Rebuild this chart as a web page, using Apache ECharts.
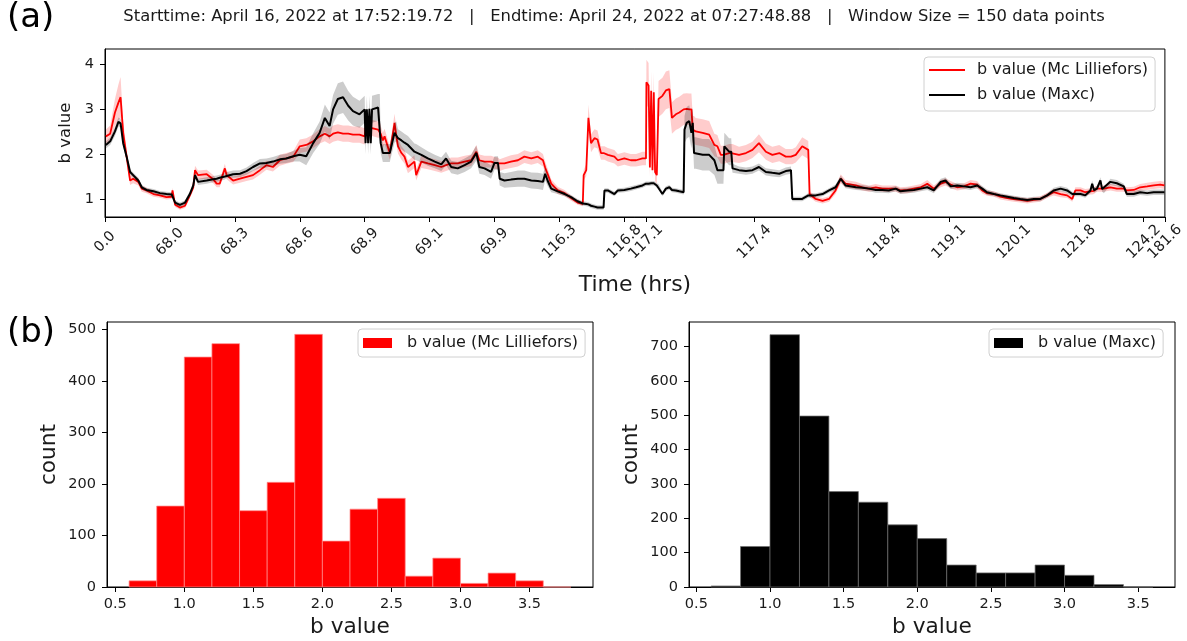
<!DOCTYPE html>
<html><head><meta charset="utf-8">
<script src="https://cdn.jsdelivr.net/npm/echarts@6/dist/echarts.min.js"></script>
<style>html,body{margin:0;padding:0;background:#fff}#c{width:1187px;height:641px}</style>
</head><body><div id="c"></div>
<script>
// ---- time series (x = sample index, every tick = 150 data points) ----
const sampleIndex = [
2,12,23,31,36,42,50,58,65,77,
85,96,112,127,142,154,156,162,173,185,
196,204,208,215,235,250,258,265,277,281,
296,312,327,342,358,373,388,404,419,435,
450,465,481,496,508,519,527,538,550,562,
573,588,600,602,605,608,611,614,617,631,
635,637,642,646,658,669,673,677,685,692,
700,715,719,731,746,762,777,788,800,815,
831,846,858,865,877,892,900,908,912,923,
938,954,969,985,1000,1012,1017,1023,1031,1046,
1062,1077,1092,1104,1106,1112,1117,1123,1131,1138,
1146,1152,1154,1162,1177,1185,1200,1215,1227,1242,
1250,1251,1256,1259,1262,1265,1268,1271,1275,1279,
1288,1296,1304,1310,1319,1327,1337,1339,1344,1350,
1355,1358,1361,1365,1381,1396,1408,1415,1423,1429,
1431,1442,1447,1450,1465,1481,1496,1511,1527,1542,
1558,1573,1585,1588,1596,1611,1625,1628,1642,1658,
1673,1688,1700,1711,1735,1750,1765,1781,1796,1811,
1827,1838,1854,1869,1885,1900,1915,1931,1942,1954,
1969,1985,2000,2015,2027,2038,2054,2069,2085,2100,
2115,2131,2146,2161,2177,2192,2208,2223,2235,2242,
2254,2265,2277,2281,2285,2292,2300,2304,2308,2323,
2338,2354,2361,2377,2392,2408,2423,2438,2448];
const bLilliefors = [
2.39,2.45,2.92,3.14,3.26,2.47,1.94,1.41,1.45,1.38,
1.23,1.19,1.11,1.08,1.04,1.05,1.19,0.87,0.81,0.85,
1.08,1.26,1.64,1.53,1.55,1.44,1.34,1.34,1.68,1.53,
1.41,1.45,1.49,1.53,1.64,1.75,1.71,1.86,1.90,1.94,
2.17,2.20,2.28,2.39,2.45,2.39,2.45,2.48,2.45,2.45,
2.43,2.43,2.39,2.58,2.58,2.58,2.58,2.58,2.58,2.54,
2.54,2.45,2.30,2.39,2.02,2.69,2.40,2.17,2.02,1.94,
1.71,1.83,1.53,1.83,1.79,1.75,1.71,1.75,1.79,1.79,
1.83,1.86,2.05,1.86,1.83,1.83,1.80,1.79,1.75,1.79,
1.83,1.86,1.94,1.90,1.94,1.86,1.70,1.55,1.34,1.19,
1.13,1.02,0.92,0.89,1.53,1.64,2.80,2.24,2.35,2.32,
2.02,2.02,2.02,1.98,1.94,1.86,1.90,1.86,1.86,1.90,
1.90,3.59,3.52,1.70,3.40,1.64,3.37,1.60,1.53,3.22,
3.29,3.41,3.44,2.80,2.88,2.92,2.99,2.99,3.00,2.99,
2.99,2.54,2.54,2.50,2.47,2.43,2.20,2.17,1.98,1.98,
1.98,2.02,2.02,2.02,1.98,2.02,2.09,2.24,2.05,1.98,
2.02,1.94,1.94,1.94,1.98,2.17,2.09,1.11,1.00,0.96,
1.00,1.19,1.45,1.34,1.30,1.26,1.23,1.26,1.23,1.23,
1.23,1.19,1.20,1.23,1.26,1.34,1.23,1.34,1.38,1.32,
1.26,1.28,1.34,1.32,1.19,1.13,1.11,1.05,1.02,1.00,
0.98,0.96,0.98,1.00,1.08,1.15,1.11,1.08,1.00,1.19,
1.19,1.15,1.17,1.17,1.18,1.23,1.23,1.23,1.23,1.26,
1.23,1.23,1.19,1.20,1.26,1.28,1.30,1.32,1.30];
const bLillieforsErr = [
.15,.18,.3,.4,.45,.25,.15,.1,.1,.08,
.07,.06,.06,.05,.05,.05,.06,.05,.05,.05,
.06,.07,.1,.1,.1,.09,.08,.08,.1,.09,
.09,.09,.09,.1,.1,.1,.1,.12,.12,.12,
.15,.15,.15,.16,.17,.17,.18,.18,.18,.18,
.18,.18,.18,.18,.18,.18,.18,.18,.18,.18,
.18,.18,.17,.17,.15,.2,.18,.16,.15,.15,
.14,.14,.12,.14,.13,.13,.13,.13,.13,.13,
.13,.13,.15,.13,.13,.13,.13,.13,.13,.13,
.14,.14,.14,.14,.14,.14,.13,.12,.1,.08,
.07,.06,.05,.05,.12,.13,.3,.2,.2,.2,
.15,.15,.15,.15,.15,.14,.14,.14,.14,.15,
.15,.5,.5,.2,.45,.2,.45,.2,.2,.4,
.4,.42,.42,.35,.35,.35,.35,.35,.35,.35,
.35,.3,.3,.3,.3,.3,.25,.25,.2,.2,
.2,.2,.2,.2,.18,.18,.18,.2,.18,.18,
.18,.17,.17,.17,.17,.2,.2,.07,.06,.06,
.06,.08,.1,.08,.08,.07,.07,.07,.07,.07,
.07,.07,.07,.07,.07,.08,.07,.08,.08,.08,
.07,.07,.08,.08,.07,.06,.06,.06,.06,.06,
.06,.06,.06,.06,.06,.07,.07,.06,.06,.07,
.07,.07,.07,.07,.07,.07,.07,.07,.07,.07,
.07,.07,.07,.07,.07,.08,.08,.08,.08];
const bMaxc = [
2.20,2.28,2.50,2.71,2.68,2.24,1.94,1.60,1.53,1.41,
1.26,1.20,1.17,1.13,1.11,1.10,1.10,0.92,0.87,0.92,
1.11,1.30,1.53,1.38,1.41,1.44,1.45,1.47,1.50,1.53,
1.55,1.56,1.62,1.71,1.79,1.80,1.83,1.88,1.90,1.95,
1.98,1.95,2.24,2.47,2.80,2.62,2.99,3.22,3.26,3.07,
2.95,2.88,2.99,2.24,2.99,2.24,3.00,2.24,2.99,3.03,
3.03,2.24,2.02,2.02,2.02,2.47,2.50,2.35,2.30,2.25,
2.20,2.05,2.04,1.98,1.90,1.83,1.77,1.90,1.71,1.68,
1.75,1.83,2.02,1.71,1.68,1.60,1.80,1.80,1.45,1.41,
1.43,1.45,1.45,1.41,1.40,1.38,1.56,1.40,1.23,1.17,
1.11,1.04,0.95,0.90,0.90,0.89,0.88,0.85,0.83,0.81,
0.81,0.81,1.19,1.19,1.11,1.19,1.20,1.23,1.26,1.30,
1.34,1.34,1.34,1.34,1.35,1.35,1.35,1.33,1.30,1.28,
1.11,1.23,1.26,1.20,1.19,1.17,1.15,2.54,2.69,2.73,
2.47,2.69,2.02,2.02,1.98,1.98,1.86,1.64,1.64,1.64,
2.17,2.05,2.05,1.68,1.64,1.62,1.64,1.71,1.60,1.58,
1.56,1.62,1.64,1.00,1.00,1.00,1.08,1.08,1.08,1.11,
1.19,1.26,1.45,1.30,1.26,1.25,1.23,1.20,1.20,1.19,
1.23,1.17,1.19,1.20,1.23,1.26,1.19,1.38,1.41,1.28,
1.30,1.28,1.26,1.30,1.23,1.15,1.11,1.08,1.05,1.02,
1.00,0.98,1.00,1.00,1.08,1.19,1.23,1.19,1.11,1.11,
1.11,1.08,1.19,1.34,1.20,1.23,1.41,1.22,1.19,1.38,
1.35,1.28,1.11,1.11,1.15,1.13,1.15,1.15,1.15];
const bMaxcErr = [
.08,.08,.1,.1,.1,.08,.07,.06,.06,.06,
.05,.05,.05,.05,.05,.05,.05,.05,.05,.05,
.06,.06,.07,.07,.07,.07,.07,.07,.07,.07,
.08,.08,.08,.09,.1,.1,.1,.1,.1,.12,
.15,.2,.22,.25,.3,.3,.32,.35,.35,.33,
.32,.3,.3,.25,.3,.25,.3,.25,.3,.3,
.3,.22,.2,.2,.2,.22,.22,.2,.2,.2,
.2,.18,.18,.17,.16,.15,.15,.15,.14,.14,
.15,.15,.17,.15,.15,.15,.15,.15,.15,.16,
.17,.18,.18,.18,.18,.18,.15,.12,.08,.06,
.05,.05,.05,.05,.05,.05,.05,.05,.05,.05,
.05,.05,.05,.05,.05,.05,.05,.05,.05,.05,
.05,.05,.05,.05,.05,.05,.05,.05,.05,.05,
.05,.05,.05,.05,.05,.05,.05,.3,.35,.35,
.35,.35,.35,.35,.35,.35,.33,.3,.3,.3,
.3,.3,.3,.1,.08,.08,.08,.08,.08,.08,
.08,.08,.08,.05,.05,.05,.05,.05,.05,.05,
.05,.06,.07,.06,.06,.06,.06,.06,.06,.06,
.06,.06,.06,.06,.06,.06,.06,.07,.07,.06,
.06,.06,.06,.06,.06,.06,.05,.05,.05,.05,
.05,.05,.05,.05,.05,.06,.06,.06,.05,.05,
.05,.05,.06,.07,.06,.06,.07,.06,.06,.07,
.07,.06,.06,.06,.06,.06,.06,.06,.06];
const timeTickIndex = [0,150,300,450,600,750,900,1050,1200,1250,1500,1650,1800,1950,2100,2250,2400,2449];
const timeTickLabels = ['0.0','68.0','68.3','68.6','68.9','69.1','69.9','116.3','116.8','117.1','117.4','117.9','118.4','119.1','120.1','121.8','124.2','181.6'];
const bValueTicks = [1,2,3,4];

// ---- histograms ----
const binEdgesLilliefors = [0.6,0.8,1.0,1.2,1.4,1.6,1.8,2.0,2.2,2.4,2.6,2.8,3.0,3.2,3.4,3.6,3.8];
const countsLilliefors = [12,157,446,472,148,203,490,89,151,172,21,56,7,27,12,0];
const binEdgesMaxc = [0.6,0.8,1.0,1.2,1.4,1.6,1.8,2.0,2.2,2.4,2.6,2.8,3.0,3.2,3.4,3.6];
const countsMaxc = [3,118,735,498,278,247,181,141,64,41,41,64,34,7,0];
const histBTicks = [0.5,1.0,1.5,2.0,2.5,3.0,3.5];
const countTicksLilliefors = [0,100,200,300,400,500];
const countTicksMaxc = [0,100,200,300,400,500,600,700];

const NAME_L = 'b value (Mc Lilliefors)';
const NAME_M = 'b value (Maxc)';
const FONT = 'DejaVu Sans';
const TXT = '#1a1a1a';
const TICK_FS = 14.5;

const pairs = (ys) => sampleIndex.map((x, i) => [x, ys[i]]);
const bandRows = (ys, es) => sampleIndex.map((x, i) => [x, ys[i] - es[i], ys[i] + es[i]]);
const bins = (edges, counts) => counts.map((c, i) => [edges[i], edges[i + 1], c]);

function axisBase(extra) {
  return Object.assign({
    axisLine: {show: true, onZero: false, lineStyle: {color: '#000', width: 1}},
    splitLine: {show: false},
    nameTextStyle: {fontSize: 21.7, color: TXT, fontFamily: FONT}
  }, extra);
}
const ticks = (vals) => ({show: true, length: 5, customValues: vals, lineStyle: {color: '#000', width: 1}});

function histItem(fill, stroke) {
  return function (params, api) {
    const a = api.coord([api.value(0), api.value(2)]);
    const b = api.coord([api.value(1), 0]);
    return {type: 'rect', shape: {x: a[0], y: a[1], width: b[0] - a[0], height: b[1] - a[1]},
      style: {fill: fill, stroke: stroke, lineWidth: 0.8}};
  };
}
// one polygon for the whole uncertainty band, mapped through the axis scales
function makeBand(ys, es, fill) {
  const rows = bandRows(ys, es);
  return function (params, api) {
    if (params.dataIndex !== 0) return null;
    const upper = rows.map(r => api.coord([r[0], r[2]]));
    const lower = rows.map(r => api.coord([r[0], r[1]])).reverse();
    return {type: 'polygon', shape: {points: upper.concat(lower)}, style: {fill: fill}};
  };
}

const legendBase = {
  orient: 'vertical', selectedMode: false, backgroundColor: '#fff', z: 10,
  borderColor: '#d0d0d0', borderWidth: 1, borderRadius: 4,
  textStyle: {fontSize: 16, color: TXT, fontFamily: FONT}
};

const graphics = [
  {type: 'text', left: 7, top: 1, style: {text: '(a)', fontSize: 34, fontFamily: FONT, fill: '#000'}},
  {type: 'text', left: 7, top: 316, style: {text: '(b)', fontSize: 34, fontFamily: FONT, fill: '#000'}},
  {type: 'text', x: 614, y: 17, style: {text: 'Starttime: April 16, 2022 at 17:52:19.72   |   Endtime: April 24, 2022 at 07:27:48.88   |   Window Size = 150 data points',
    fontSize: 16.4, fontFamily: FONT, fill: TXT, align: 'center', verticalAlign: 'middle'}}
];
const lens = [bLilliefors, bLillieforsErr, bMaxc, bMaxcErr].map(a => a.length);
if (lens.some(l => l !== sampleIndex.length)) {
  graphics.push({type: 'text', left: 300, top: 120, style: {text: 'LENGTH MISMATCH ' + sampleIndex.length + ' ' + lens.join(','), fontSize: 20, fill: 'blue'}});
}

const chart = echarts.init(document.getElementById('c'), null, {renderer: 'canvas'});
chart.setOption({
  animation: false,
  backgroundColor: '#fff',
  textStyle: {fontFamily: FONT},
  graphic: graphics,
  grid: [
    {left: 105, top: 49, width: 1062, height: 168, show: true, borderColor: '#000', borderWidth: 1, backgroundColor: 'transparent'},
    {left: 107, top: 322, width: 486, height: 265, show: true, borderColor: '#000', borderWidth: 1, backgroundColor: 'transparent'},
    {left: 689, top: 322, width: 486, height: 265, show: true, borderColor: '#000', borderWidth: 1, backgroundColor: 'transparent'}
  ],
  xAxis: [
    axisBase({gridIndex: 0, type: 'value', min: 0, max: 2449, name: 'Time (hrs)', nameLocation: 'middle', nameGap: 57,
      nameTextStyle: {fontSize: 22, color: TXT, fontFamily: FONT},
      axisTick: ticks(timeTickIndex),
      axisLabel: {customValues: timeTickIndex, rotate: 45, align: 'center', verticalAlign: 'middle', margin: 25,
        fontSize: TICK_FS, color: TXT, fontFamily: FONT, hideOverlap: false,
        formatter: v => timeTickLabels[timeTickIndex.indexOf(v)]}}),
    axisBase({gridIndex: 1, type: 'value', min: 0.44, max: 3.96, name: 'b value', nameLocation: 'middle', nameGap: 29,
      axisTick: ticks(histBTicks),
      axisLabel: {customValues: histBTicks, fontSize: TICK_FS, color: TXT, fontFamily: FONT, margin: 10, formatter: v => v.toFixed(1)}}),
    axisBase({gridIndex: 2, type: 'value', min: 0.45, max: 3.75, name: 'b value', nameLocation: 'middle', nameGap: 29,
      axisTick: ticks(histBTicks),
      axisLabel: {customValues: histBTicks, fontSize: TICK_FS, color: TXT, fontFamily: FONT, margin: 10, formatter: v => v.toFixed(1)}})
  ],
  yAxis: [
    axisBase({gridIndex: 0, type: 'value', min: 0.6, max: 4.33, name: 'b value', nameLocation: 'middle', nameGap: 28,
      nameTextStyle: {fontSize: 16.5, color: TXT, fontFamily: FONT},
      axisTick: ticks(bValueTicks),
      axisLabel: {customValues: bValueTicks, fontSize: TICK_FS, color: TXT, fontFamily: FONT, margin: 11}}),
    axisBase({gridIndex: 1, type: 'value', min: 0, max: 514, name: 'count', nameLocation: 'middle', nameGap: 47,
      axisTick: ticks(countTicksLilliefors),
      axisLabel: {customValues: countTicksLilliefors, fontSize: TICK_FS, color: TXT, fontFamily: FONT, margin: 11}}),
    axisBase({gridIndex: 2, type: 'value', min: 0, max: 772, name: 'count', nameLocation: 'middle', nameGap: 47,
      axisTick: ticks(countTicksMaxc),
      axisLabel: {customValues: countTicksMaxc, fontSize: TICK_FS, color: TXT, fontFamily: FONT, margin: 11}})
  ],
  legend: [
    Object.assign({}, legendBase, {
      data: [{name: NAME_L, icon: 'rect', itemStyle: {color: '#ff0000', borderWidth: 0}},
             {name: NAME_M, icon: 'rect', itemStyle: {color: '#000000', borderWidth: 0}}],
      left: 924, top: 57, itemWidth: 36, itemHeight: 2, itemGap: 9, padding: [5, 7, 8, 5],
      textStyle: Object.assign({}, legendBase.textStyle, {padding: [0, 0, 0, 7]})}),
    Object.assign({}, legendBase, {data: [{name: NAME_L, icon: 'rect', itemStyle: {color: '#ff0000', borderWidth: 0}}],
      left: 358, top: 329, itemWidth: 29, itemHeight: 10, padding: [6, 7, 6, 5],
      textStyle: Object.assign({}, legendBase.textStyle, {padding: [0, 0, 0, 10]})}),
    Object.assign({}, legendBase, {data: [{name: NAME_M, icon: 'rect', itemStyle: {color: '#000000', borderWidth: 0}}],
      left: 989, top: 329, itemWidth: 29, itemHeight: 10, padding: [6, 7, 6, 5],
      textStyle: Object.assign({}, legendBase.textStyle, {padding: [0, 0, 0, 10]})})
  ],
  series: [
    {name: NAME_L, type: 'line', xAxisIndex: 0, yAxisIndex: 0, data: pairs(bLilliefors), symbol: 'none', z: 3,
      lineStyle: {color: '#ff0000', width: 1.8}, itemStyle: {color: '#ff0000'}},
    {name: NAME_M, type: 'line', xAxisIndex: 0, yAxisIndex: 0, data: pairs(bMaxc), symbol: 'none', z: 5,
      lineStyle: {color: '#000', width: 2}, itemStyle: {color: '#000'}},
    {name: 'lillieforsBand', type: 'custom', xAxisIndex: 0, yAxisIndex: 0, data: bandRows(bLilliefors, bLillieforsErr),
      encode: {x: 0, y: [1, 2]}, renderItem: makeBand(bLilliefors, bLillieforsErr, 'rgba(255,0,0,0.2)'), clip: true, silent: true, z: 2},
    {name: 'maxcBand', type: 'custom', xAxisIndex: 0, yAxisIndex: 0, data: bandRows(bMaxc, bMaxcErr),
      encode: {x: 0, y: [1, 2]}, renderItem: makeBand(bMaxc, bMaxcErr, 'rgba(0,0,0,0.2)'), clip: true, silent: true, z: 4},
    {name: NAME_L, type: 'custom', xAxisIndex: 1, yAxisIndex: 1, data: bins(binEdgesLilliefors, countsLilliefors),
      encode: {x: [0, 1], y: 2}, renderItem: histItem('#ff0000', 'rgba(255,140,140,0.9)'), z: 2},
    {name: NAME_M, type: 'custom', xAxisIndex: 2, yAxisIndex: 2, data: bins(binEdgesMaxc, countsMaxc),
      encode: {x: [0, 1], y: 2}, renderItem: histItem('#000000', 'rgba(110,110,110,0.9)'), z: 2}
  ]
});
</script></body></html>
